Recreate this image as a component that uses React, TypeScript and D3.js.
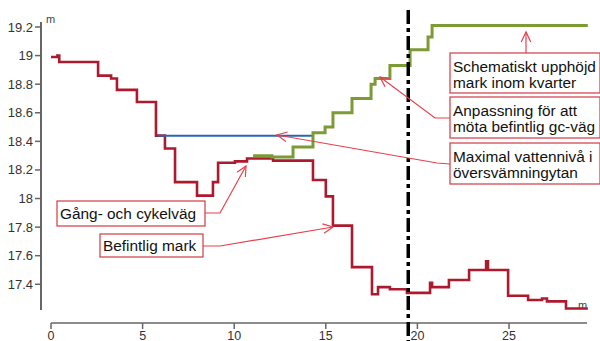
import React from "react";
import * as d3 from "d3";

const W = 600;
const H = 341;

// Befintlig mark (existing ground), step-after points
const redX = [0, 0.35, 0.45, 2.57, 3.28, 3.6, 4.69, 5.73, 6.22, 6.77, 7.97, 8.84, 9.12, 10.04, 10.7, 12.12, 14.3, 15.0, 15.39, 16.43, 17.52, 17.85, 18.5, 19.43, 20.69, 20.8, 21.72, 22.82, 23.75, 23.85, 24.95, 26.04, 26.8, 27.07, 28.11, 29.3];
const redY = [18.99, 19.0, 18.955, 18.86, 18.84, 18.76, 18.675, 18.44, 18.35, 18.115, 18.02, 18.115, 18.25, 18.26, 18.28, 18.265, 18.13, 18.015, 17.81, 17.52, 17.33, 17.38, 17.365, 17.34, 17.41, 17.38, 17.43, 17.5, 17.56, 17.5, 17.32, 17.29, 17.3, 17.28, 17.23, 17.23];

// Proposed raised ground (green)
const greenX = [11.03, 12.06, 13.21, 14.3, 14.96, 15.39, 16.43, 17.47, 17.69, 18.5, 19.6, 20.58, 20.8, 29.3];
const greenY = [18.3, 18.29, 18.36, 18.46, 18.5, 18.6, 18.7, 18.8, 18.84, 18.93, 19.04, 19.13, 19.21, 19.21];

// Max water level (blue)
const blueX = [5.84, 14.3];
const blueY = [18.44, 18.44];

const divider = 19.5;

const xTicks = [0, 5, 10, 15, 20, 25];
const yTicks = [17.4, 17.6, 17.8, 18, 18.2, 18.4, 18.6, 18.8, 19, 19.2];

const FONT = "'Liberation Sans', Arial, sans-serif";

function arrow(tx: number, ty: number, fx: number, fy: number, color: string) {
  const a = Math.atan2(fy - ty, fx - tx);
  const L = 11;
  const s = 0.45;
  const p1 = [tx + L * Math.cos(a + s), ty + L * Math.sin(a + s)];
  const p2 = [tx + L * Math.cos(a - s), ty + L * Math.sin(a - s)];
  return (
    <path
      d={`M${p1[0]},${p1[1]}L${tx},${ty}L${p2[0]},${p2[1]}`}
      fill="none"
      stroke={color}
      strokeWidth={1.2}
    />
  );
}

export default function App() {
  const x = d3.scaleLinear().domain([0, 29.3]).range([51, 587.8]);
  const y = d3.scaleLinear().domain([17.22, 19.235]).range([310, 22]);

  const line = d3
    .line<[number, number]>()
    .x((d) => x(d[0]))
    .y((d) => y(d[1]))
    .curve(d3.curveStepAfter);

  const red = redX.map((v, i) => [v, redY[i]] as [number, number]);
  const green = greenX.map((v, i) => [v, greenY[i]] as [number, number]);
  const blue = blueX.map((v, i) => [v, blueY[i]] as [number, number]);

  const boxStroke = "#d23a46";
  const conn = "#e8404c";

  const boxes = [
    { x: 450, y: 53, w: 150, h: 40, lines: ["Schematiskt upphöjd", "mark inom kvarter"] },
    { x: 450, y: 97, w: 150, h: 41, lines: ["Anpassning för att", "möta befintlig gc-väg"] },
    { x: 450, y: 143, w: 150, h: 41, lines: ["Maximal vattennivå i", "översvämningytan"] },
    { x: 57, y: 201, w: 148, h: 25, lines: ["Gång- och cykelväg"] },
    { x: 100, y: 234, w: 103, h: 23, lines: ["Befintlig mark"] },
  ];

  return (
    <svg
      width={W}
      height={H}
      style={{ position: "absolute", left: 0, top: 0, background: "#fff" }}
      fontFamily={FONT}
    >
      <rect x={0} y={0} width={W} height={H} fill="#fff" />

      {/* Y axis */}
      <line x1={41} x2={41} y1={22} y2={310} stroke="#666" strokeWidth={2} />
      {yTicks.map((t) => (
        <g key={t}>
          <line x1={35} x2={41} y1={y(t)} y2={y(t)} stroke="#666" strokeWidth={1.5} />
          <text x={33} y={y(t) + 4.5} fontSize={13} textAnchor="end" fill="#333">
            {String(t)}
          </text>
        </g>
      ))}
      <text x={46} y={23} fontSize={11} fill="#444">m</text>

      {/* X axis */}
      <line x1={x(0)} x2={587} y1={323} y2={323} stroke="#666" strokeWidth={1.5} />
      {xTicks.map((t) => (
        <g key={t}>
          <line x1={x(t)} x2={x(t)} y1={323} y2={329} stroke="#666" strokeWidth={1.5} />
          <text x={x(t)} y={339.5} fontSize={12.5} textAnchor="middle" fill="#333">
            {String(t)}
          </text>
        </g>
      ))}
      <text x={578} y={309} fontSize={11} fill="#444">m</text>

      {/* Series */}
      <path d={line(red) || ""} fill="none" stroke="#ad1a2e" strokeWidth={2.6} />
      <path d={line(blue) || ""} fill="none" stroke="#2a66b0" strokeWidth={2} />
      <path d={line(green) || ""} fill="none" stroke="#7c9b34" strokeWidth={3} />

      {/* Divider */}
      <line
        x1={x(divider)}
        x2={x(divider)}
        y1={10}
        y2={341}
        stroke="#000"
        strokeWidth={3.5}
        strokeDasharray="14,4,4,4"
      />

      {/* Connectors */}
      <path d="M526,53L526,32" fill="none" stroke={conn} strokeWidth={1.2} />
      {arrow(526, 32, 526, 53, conn)}
      <path d="M450,118L435,118L380,77" fill="none" stroke={conn} strokeWidth={1.2} />
      {arrow(380, 77, 435, 118, conn)}
      <path d="M450,164L437,163L277,135" fill="none" stroke={conn} strokeWidth={1.2} />
      {arrow(277, 135, 437, 163, conn)}
      <path d="M205,213L220,213L246,166" fill="none" stroke={conn} strokeWidth={1.2} />
      {arrow(246, 166, 220, 213, conn)}
      <path d="M203,246L220,246L333,227" fill="none" stroke={conn} strokeWidth={1.2} />
      {arrow(333, 227, 220, 246, conn)}

      {/* Boxes */}
      {boxes.map((b, i) => (
        <g key={i}>
          <rect x={b.x} y={b.y} width={b.w} height={b.h} fill="#fff" stroke={boxStroke} strokeWidth={1.2} />
          {b.lines.map((l, j) => (
            <text
              key={j}
              x={b.x + 3}
              y={b.lines.length === 1 ? b.y + b.h / 2 + 5.5 : b.y + 19 + j * 15.5}
              fontSize={15.4}
              fill="#111"
            >
              {l}
            </text>
          ))}
        </g>
      ))}
    </svg>
  );
}
